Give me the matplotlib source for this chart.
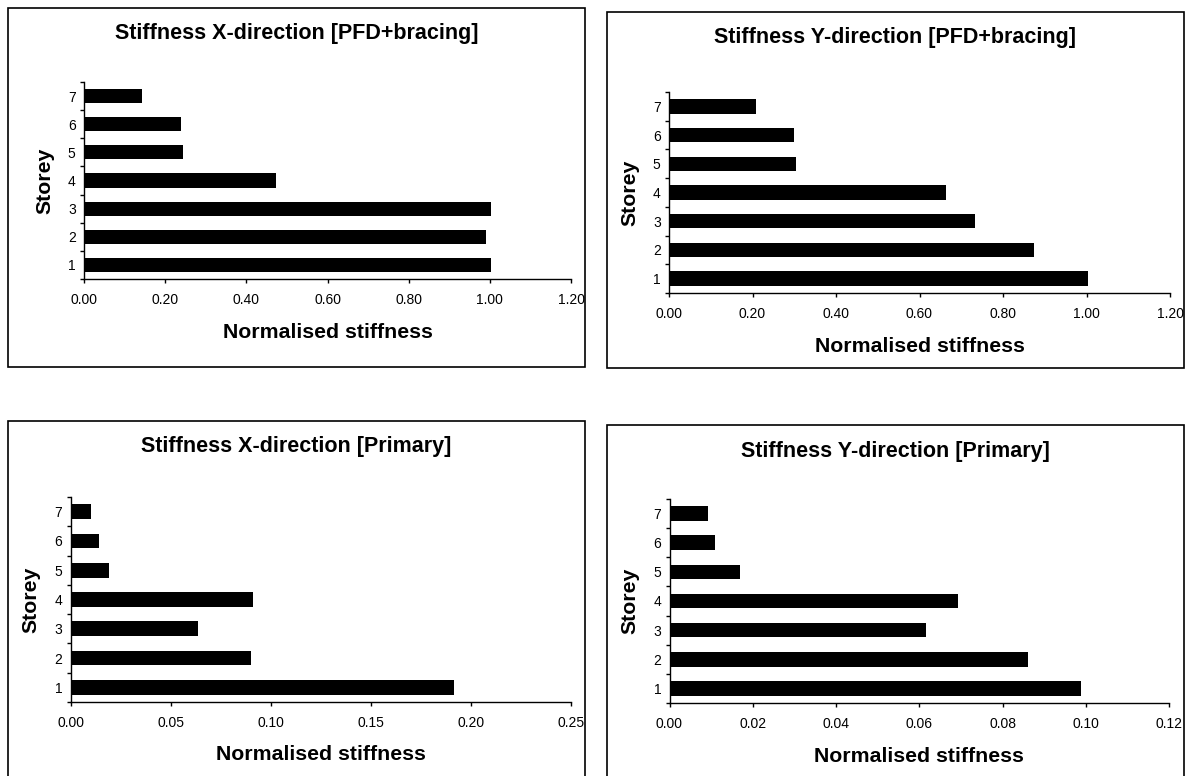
import matplotlib
matplotlib.use("Agg")
import matplotlib.pyplot as plt
from matplotlib.ticker import FormatStrFormatter, MultipleLocator, FixedLocator

plt.rcParams['font.family'] = ['Liberation Sans', 'DejaVu Sans']

# Storey numbers and normalised stiffness per storey (storey 1 first)
storeys = [1, 2, 3, 4, 5, 6, 7]
x_pfd_bracing = [1.002, 0.990, 1.002, 0.472, 0.245, 0.240, 0.142]
y_pfd_bracing = [1.004, 0.875, 0.733, 0.663, 0.304, 0.300, 0.208]
x_primary = [0.1916, 0.0903, 0.0637, 0.0911, 0.0191, 0.0144, 0.0101]
y_primary = [0.0989, 0.0861, 0.0617, 0.0694, 0.0169, 0.0110, 0.0093]

titles = ["Stiffness X-direction [PFD+bracing]", "Stiffness Y-direction [PFD+bracing]",
          "Stiffness X-direction [Primary]", "Stiffness Y-direction [Primary]"]
x_limits = [1.2, 1.2, 0.25, 0.12]
x_steps = [0.2, 0.2, 0.05, 0.02]

W, H = 1187, 776
fig = plt.figure(figsize=(W / 100, H / 100), dpi=100)


def px_box(left, top, right, bottom):
    # pixel box -> figure fraction [l, b, w, h]
    return [left / W, 1 - bottom / H, (right - left) / W, (bottom - top) / H]


# layout in pixels: frame, axes, title y, y-label x
panels = [
    dict(frame=(8, 8, 585, 367), axes=(84, 82, 571, 279), title_y=34, ylab_x=45),
    dict(frame=(607, 12, 1184, 368), axes=(669, 92, 1170, 293), title_y=37, ylab_x=630),
    dict(frame=(8, 421, 585, 800), axes=(70.5, 497, 571, 702), title_y=447, ylab_x=31),
    dict(frame=(607, 425, 1184, 800), axes=(669.5, 499, 1169, 703), title_y=451, ylab_x=630),
]
data = [x_pfd_bracing, y_pfd_bracing, x_primary, y_primary]

for p, values, title, xmax, step in zip(panels, data, titles, x_limits, x_steps):
    fl, ft, fr, fb = p["frame"]
    fig.add_artist(plt.Rectangle((fl / W, 1 - fb / H), (fr - fl) / W, (fb - ft) / H,
                                 transform=fig.transFigure, fill=False,
                                 edgecolor='black', linewidth=1.2))
    fig.text((fl + fr) / 2 / W, 1 - p["title_y"] / H, title, ha='center', va='center',
             fontsize=15.5, fontweight='bold')

    al, at, ar, ab = p["axes"]
    ax = fig.add_axes(px_box(al, at, ar, ab))
    ax.barh(storeys, values, height=0.5, color='black')

    ax.set_xlim(0, xmax)
    ax.set_ylim(0.5, 7.5)
    ax.xaxis.set_major_locator(MultipleLocator(step))
    ax.xaxis.set_major_formatter(FormatStrFormatter('%.2f'))
    ax.tick_params(axis='x', direction='out', length=3, width=1, pad=7, labelsize=10)

    # ticks at storey boundaries, labels at storey centres
    ax.yaxis.set_major_locator(FixedLocator([s - 0.5 for s in storeys] + [7.5]))
    ax.yaxis.set_minor_locator(FixedLocator(storeys))
    ax.yaxis.set_minor_formatter(FormatStrFormatter('%d'))
    ax.tick_params(axis='y', which='major', direction='out', length=3, width=1, labelleft=False)
    ax.tick_params(axis='y', which='minor', length=0, pad=6, labelsize=10)

    for side in ('top', 'right'):
        ax.spines[side].set_visible(False)
    for side in ('left', 'bottom'):
        ax.spines[side].set_linewidth(1)

    ax_w = ar - al
    ax_h = ab - at
    ax.set_xlabel("Normalised stiffness", fontsize=15.3, fontweight='bold', va='center')
    ax.xaxis.set_label_coords(0.5, -53 / ax_h)
    ax.set_ylabel("Storey", fontsize=15.3, fontweight='bold', va='center', ha='center')
    ax.yaxis.set_label_coords(-(al - p["ylab_x"]) / ax_w, 0.5)

fig.savefig("out.png", dpi=100)
